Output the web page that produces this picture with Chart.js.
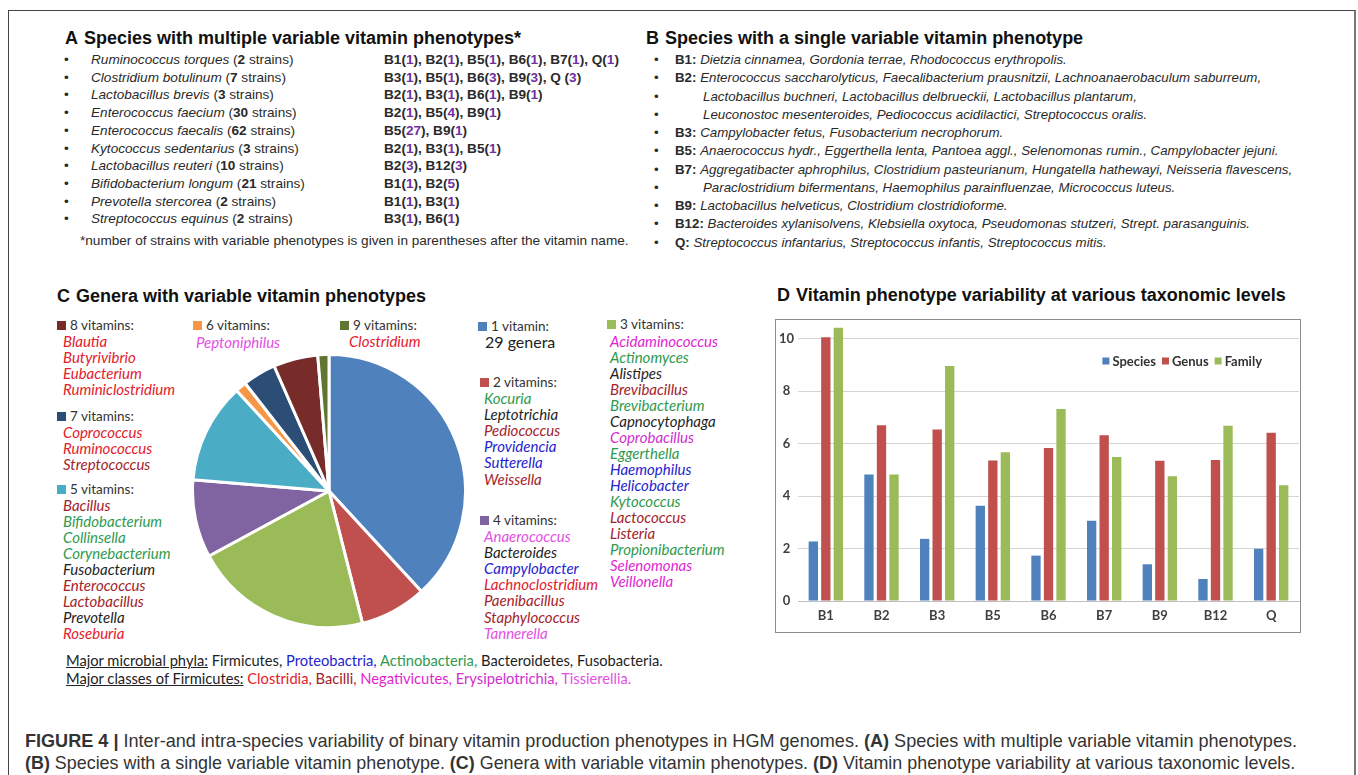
<!DOCTYPE html>
<html>
<head>
<meta charset="utf-8">
<script src="https://cdn.jsdelivr.net/npm/chart.js@4.4.0/dist/chart.umd.min.js"></script>
<style>
  html, body { margin: 0; padding: 0; background: #fff; }
  body { width: 1358px; height: 775px; position: relative; overflow: hidden;
         font-family: "Liberation Sans", Arial, sans-serif; color: #262626; }
  .frame { position: absolute; left: 8px; top: 10px; width: 1345px; height: 820px;
           border: 1px solid #444; border-right: 2px solid #777; }
  .t { position: absolute; white-space: nowrap; }
  .title { font-weight: bold; font-size: 18px; color: #111; line-height: 20px; }
  .title .k { margin-right: 6px; }
  .a-row { font-size: 13.6px; line-height: 16px; color: #2a2a2a; }
  .b-row { font-size: 13.3px; line-height: 16px; color: #2a2a2a; }
  .it { font-style: italic; }
  .bd { font-weight: bold; }
  .pp { color: #7030a0; }
  .cal { font-family: Lato, "Open Sans", sans-serif; }
  .leg-h { font-size: 13.5px; line-height: 16px; color: #333; }
  .leg-n { font-size: 15px; line-height: 16px; font-style: italic; }
  .sq { position: absolute; width: 9px; height: 9px; }
  .note { font-size: 14.7px; line-height: 16px; color: #222; }
  .u { text-decoration: underline; }
  .cap { font-size: 19px; line-height: 22px; color: #333; transform-origin: 0 50%; }
  canvas { position: absolute; }
  .dbox { position: absolute; left: 775px; top: 319px; width: 526px; height: 314px;
          border: 1px solid #8c8c8c; box-sizing: border-box; }
</style>
</head>
<body>
<div class="frame"></div>
<div id="root"></div>
<canvas id="pie" width="276" height="276" style="left:191px;top:353px;width:276px;height:276px"></canvas>
<div class="dbox"></div>
<canvas id="bars" width="524" height="312" style="left:776px;top:320px;width:524px;height:312px"></canvas>

<script>
// ---- Panel A: species with several variable vitamin phenotypes ----
const multiSpecies = ['Ruminococcus torques', 'Clostridium botulinum', 'Lactobacillus brevis',
  'Enterococcus faecium', 'Enterococcus faecalis', 'Kytococcus sedentarius',
  'Lactobacillus reuteri', 'Bifidobacterium longum', 'Prevotella stercorea', 'Streptococcus equinus'];
const multiStrains = [2, 7, 3, 30, 62, 3, 10, 21, 2, 2];
const multiVitamins = [
  ['B1', 'B2', 'B5', 'B6', 'B7', 'Q'],
  ['B3', 'B5', 'B6', 'B9', 'Q '],
  ['B2', 'B3', 'B6', 'B9'],
  ['B2', 'B5', 'B9'],
  ['B5', 'B9'],
  ['B2', 'B3', 'B5'],
  ['B2', 'B12'],
  ['B1', 'B2'],
  ['B1', 'B3'],
  ['B3', 'B6']
];
const multiCounts = [
  [1, 1, 1, 1, 1, 1],
  [1, 1, 3, 3, 3],
  [1, 1, 1, 1],
  [1, 4, 1],
  [27, 1],
  [1, 1, 1],
  [3, 3],
  [1, 5],
  [1, 1],
  [1, 1]
];

// ---- Panel B: species with one variable vitamin phenotype ----
const singleVitamins = ['B1', 'B2', 'B3', 'B5', 'B7', 'B9', 'B12', 'Q'];
const singleSpeciesLines = [
  ['Dietzia cinnamea, Gordonia terrae, Rhodococcus erythropolis.'],
  ['Enterococcus saccharolyticus, Faecalibacterium prausnitzii, Lachnoanaerobaculum saburreum,',
   'Lactobacillus buchneri, Lactobacillus delbrueckii, Lactobacillus plantarum,',
   'Leuconostoc mesenteroides, Pediococcus acidilactici, Streptococcus oralis.'],
  ['Campylobacter fetus, Fusobacterium necrophorum.'],
  ['Anaerococcus hydr., Eggerthella lenta, Pantoea aggl., Selenomonas rumin., Campylobacter jejuni.'],
  ['Aggregatibacter aphrophilus, Clostridium pasteurianum, Hungatella hathewayi, Neisseria flavescens,',
   'Paraclostridium bifermentans, Haemophilus parainfluenzae, Micrococcus luteus.'],
  ['Lactobacillus helveticus, Clostridium clostridioforme.'],
  ['Bacteroides xylanisolvens, Klebsiella oxytoca, Pseudomonas stutzeri, Strept. parasanguinis.'],
  ['Streptococcus infantarius, Streptococcus infantis, Streptococcus mitis.']
];

// ---- Panel C: genera grouped by number of variable vitamins ----
const groupLabels = ['1 vitamin:', '2 vitamins:', '3 vitamins:', '4 vitamins:', '5 vitamins:',
  '6 vitamins:', '7 vitamins:', '8 vitamins:', '9 vitamins:'];
const generaCounts = [29, 6, 16, 7, 9, 1, 3, 4, 1];
const groupColors = ['#4f81bd', '#c0504d', '#9bbb59', '#8064a2', '#4bacc6',
  '#f79646', '#2c4d75', '#772c2a', '#5f7530'];
// genus name + taxon key (colour of the name)
const genera1 = [['29 genera', 'plain']];
const genera2 = [['Kocuria', 'act'], ['Leptotrichia', 'blk'], ['Pediococcus', 'bac'],
  ['Providencia', 'pro'], ['Sutterella', 'pro'], ['Weissella', 'bac']];
const genera3 = [['Acidaminococcus', 'neg'], ['Actinomyces', 'act'], ['Alistipes', 'blk'],
  ['Brevibacillus', 'bac'], ['Brevibacterium', 'act'], ['Capnocytophaga', 'blk'],
  ['Coprobacillus', 'ery'], ['Eggerthella', 'act'], ['Haemophilus', 'pro'], ['Helicobacter', 'pro'],
  ['Kytococcus', 'act'], ['Lactococcus', 'bac'], ['Listeria', 'bac'], ['Propionibacterium', 'act'],
  ['Selenomonas', 'neg'], ['Veillonella', 'neg']];
const genera4 = [['Anaerococcus', 'tis'], ['Bacteroides', 'blk'], ['Campylobacter', 'pro'],
  ['Lachnoclostridium', 'clo'], ['Paenibacillus', 'bac'], ['Staphylococcus', 'bac'], ['Tannerella', 'tis']];
const genera5 = [['Bacillus', 'bac'], ['Bifidobacterium', 'act'], ['Collinsella', 'act'],
  ['Corynebacterium', 'act'], ['Fusobacterium', 'blk'], ['Enterococcus', 'bac'],
  ['Lactobacillus', 'bac'], ['Prevotella', 'blk'], ['Roseburia', 'clo']];
const genera6 = [['Peptoniphilus', 'tis']];
const genera7 = [['Coprococcus', 'clo'], ['Ruminococcus', 'clo'], ['Streptococcus', 'bac']];
const genera8 = [['Blautia', 'clo'], ['Butyrivibrio', 'clo'], ['Eubacterium', 'clo'], ['Ruminiclostridium', 'clo']];
const genera9 = [['Clostridium', 'clo']];

const phylaNames = ['Firmicutes', 'Proteobactria', 'Actinobacteria', 'Bacteroidetes', 'Fusobacteria'];
const phylaKeys = ['blk', 'pro', 'act', 'blk', 'blk'];
const classNames = ['Clostridia', 'Bacilli', 'Negativicutes', 'Erysipelotrichia', 'Tissierellia'];
const classKeys = ['clo', 'bac', 'neg', 'ery', 'tis'];

// ---- Panel D: variability at three taxonomic levels ----
const vitamins = ['B1', 'B2', 'B3', 'B5', 'B6', 'B7', 'B9', 'B12', 'Q'];
const speciesLevel = [2.27, 4.82, 2.37, 3.63, 1.73, 3.06, 1.40, 0.84, 1.99];
const genusLevel   = [10.06, 6.70, 6.54, 5.36, 5.83, 6.32, 5.35, 5.38, 6.42];
const familyLevel  = [10.42, 4.82, 8.96, 5.67, 7.32, 5.49, 4.76, 6.68, 4.41];
const yTicks = [0, 2, 4, 6, 8, 10];

// ---------------------------------------------------------------
const taxonColor = { clo: '#e3202b', bac: '#a3232a', neg: '#e21fcf', ery: '#cf2fcf',
  tis: '#e44fe4', pro: '#2424cf', act: '#2f9a4e', blk: '#1e1e1e', plain: '#222' };

const root = document.getElementById('root');
function put(x, yCenter, lineH, cls, html) {
  const d = document.createElement('div');
  d.className = 't ' + cls;
  d.style.left = x + 'px';
  d.style.top = (yCenter - lineH / 2) + 'px';
  d.innerHTML = html;
  root.appendChild(d);
  return d;
}
function square(x, yCenter, color) {
  const s = document.createElement('div');
  s.className = 'sq';
  s.style.left = x + 'px';
  s.style.top = (yCenter - 4.5) + 'px';
  s.style.background = color;
  root.appendChild(s);
}

// titles
put(65, 38, 20, 'title', '<span class="k">A</span>Species with multiple variable vitamin phenotypes*');
put(646, 38, 20, 'title', '<span class="k">B</span>Species with a single variable vitamin phenotype');
put(57, 296, 20, 'title', '<span class="k">C</span>Genera with variable vitamin phenotypes');
put(777, 295, 20, 'title', '<span class="k">D</span>Vitamin phenotype variability at various taxonomic levels');

// panel A rows
multiSpecies.forEach((name, i) => {
  const y = 60 + i * 17.7;
  put(64, y, 16, 'a-row', '&bull;');
  put(91, y, 16, 'a-row', `<span class="it">${name}</span> (<span class="bd">${multiStrains[i]}</span> strains)`);
  const vit = multiVitamins[i].map((v, j) =>
    `${v}(<span class="pp">${multiCounts[i][j]}</span>)`).join(', ');
  put(384, y, 16, 'a-row bd', vit);
});
put(80, 241, 16, 'a-row', '*number of strains with variable phenotypes is given in parentheses after the vitamin name.');

// panel B rows
let bLine = 0;
singleVitamins.forEach((v, i) => {
  singleSpeciesLines[i].forEach((txt, k) => {
    const y = 60 + bLine * 18.25;
    put(654, y, 16, 'b-row', '&bull;');
    if (k === 0) put(675, y, 16, 'b-row', `<span class="bd">${v}:</span> <span class="it">${txt}</span>`);
    else put(703, y, 16, 'b-row', `<span class="it">${txt}</span>`);
    bLine++;
  });
});

// panel C legend groups
function group(idx, list, sqX, headY, nameX, firstY, step) {
  square(sqX, headY, groupColors[idx]);
  put(sqX + 13, headY, 16, 'cal leg-h', groupLabels[idx]);
  list.forEach(([n, key], i) => {
    const cls = key === 'plain' ? 'cal leg-h' : 'cal leg-n';
    const el = put(nameX, firstY + i * step, 16, cls, n);
    el.style.color = taxonColor[key];
    if (key === 'plain') el.style.fontSize = '16px';
  });
}
group(7, genera8, 57, 325, 63, 341, 16.1);
group(6, genera7, 57, 416, 63, 432, 16.1);
group(4, genera5, 57, 489, 63, 504.5, 16.1);
group(5, genera6, 193, 325, 196, 342, 16.1);
group(8, genera9, 340, 325, 349, 341, 16.1);
group(0, genera1, 478, 326, 485, 342, 16.1);
group(1, genera2, 480, 382, 484, 398, 16.1);
group(3, genera4, 480, 520, 484, 536, 16.1);
group(2, genera3, 607, 324, 610, 341, 16.0);

// phyla / classes notes
const phylaHtml = '<span class="u">Major microbial phyla:</span> ' + phylaNames.map((p, i) =>
  `<span style="color:${taxonColor[phylaKeys[i]]}">${p}${i < phylaNames.length - 1 ? ',' : '.'}</span>`).join(' ');
const classHtml = '<span class="u">Major classes of Firmicutes:</span> ' + classNames.map((p, i) =>
  `<span style="color:${taxonColor[classKeys[i]]}">${p}${i < classNames.length - 1 ? ',' : '.'}</span>`).join(' ');
put(66, 660, 16, 'cal note', phylaHtml);
put(66, 678, 16, 'cal note', classHtml);

// caption, condensed to its column width
const cap1 = put(25, 741, 22, 'cap', '<b>FIGURE 4 |</b> Inter-and intra-species variability of binary vitamin production phenotypes in HGM genomes. <b>(A)</b> Species with multiple variable vitamin phenotypes.');
const cap2 = put(25, 763, 22, 'cap', '<b>(B)</b> Species with a single variable vitamin phenotype. <b>(C)</b> Genera with variable vitamin phenotypes. <b>(D)</b> Vitamin phenotype variability at various taxonomic levels.');
[[cap1, 1272], [cap2, 1270]].forEach(([el, w]) => {
  el.style.transform = `scaleX(${w / el.scrollWidth})`;
});

// ---- pie chart ----
new Chart(document.getElementById('pie'), {
  type: 'pie',
  data: {
    labels: groupLabels,
    datasets: [{ data: generaCounts, backgroundColor: groupColors, borderColor: '#ffffff', borderWidth: 3 }]
  },
  options: {
    responsive: false, animation: false, devicePixelRatio: 1,
    layout: { padding: 0 },
    plugins: { legend: { display: false }, tooltip: { enabled: false } }
  }
});

// ---- bar chart ----
const tickFont = { family: 'Lato', weight: 'bold', size: 13 };

// horizontal series key drawn inside the plot, anchored at its right end
const insideLegend = {
  id: 'insideLegend',
  afterDraw(chart, args, opts) {
    const ctx = chart.ctx;
    ctx.save();
    ctx.font = `bold ${tickFont.size}px ${tickFont.family}`;
    ctx.textBaseline = 'middle';
    const box = 7, gapBox = 3, gapItem = 6;
    const items = chart.data.datasets.map(ds => ({ label: ds.label, color: ds.backgroundColor,
      w: box + gapBox + ctx.measureText(ds.label).width }));
    const total = items.reduce((s, it) => s + it.w, 0) + gapItem * (items.length - 1);
    let x = opts.right - total;
    items.forEach(it => {
      ctx.fillStyle = it.color;
      ctx.fillRect(x, opts.y - box / 2, box, box);
      ctx.fillStyle = '#333';
      ctx.fillText(it.label, x + box + gapBox, opts.y + 0.5);
      x += it.w + gapItem;
    });
    ctx.restore();
  }
};

new Chart(document.getElementById('bars'), {
  type: 'bar',
  data: {
    labels: vitamins,
    datasets: [
      { label: 'Species', data: speciesLevel, backgroundColor: '#4f81bd' },
      { label: 'Genus', data: genusLevel, backgroundColor: '#c0504d' },
      { label: 'Family', data: familyLevel, backgroundColor: '#9bbb59' }
    ]
  },
  options: {
    responsive: false, animation: false, devicePixelRatio: 1,
    layout: { padding: { top: 3, right: 1, left: 0, bottom: 0 } },
    datasets: { bar: { categoryPercentage: 0.675, barPercentage: 0.745 } },
    plugins: {
      legend: { display: false },
      tooltip: { enabled: false },
      insideLegend: { right: 486, y: 41 }
    },
    scales: {
      x: {
        grid: { display: false, drawTicks: false },
        border: { color: '#bfbfbf' },
        ticks: { padding: 7, color: '#404040', font: tickFont },
        afterFit(a) { a.height = 31; a.paddingLeft = 0; a.paddingRight = 0; }
      },
      y: {
        min: 0, max: 10.6,
        afterBuildTicks(a) { a.ticks = yTicks.map(v => ({ value: v })); },
        ticks: { crossAlign: 'center', padding: 4, color: '#404040', font: tickFont },
        grid: { color: '#d4d4d4', drawTicks: false },
        border: { display: false },
        afterFit(a) { a.width = 22; a.paddingTop = 0; a.paddingBottom = 0; }
      }
    }
  },
  plugins: [insideLegend]
});
</script>
</body>
</html>
